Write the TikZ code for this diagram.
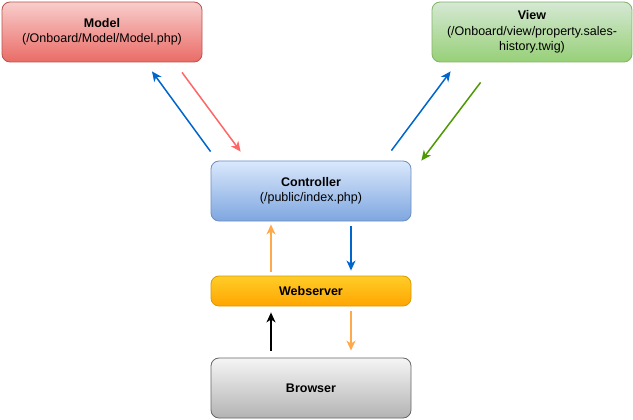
\documentclass[tikz,border=0pt]{standalone}
\usepackage{fontspec}
\setmainfont{Liberation Sans}
\usetikzlibrary{arrows.meta, positioning}
\definecolor{modeltop}{HTML}{F8CECC}
\definecolor{modelbot}{HTML}{EA6B66}
\definecolor{modelline}{HTML}{B85450}
\definecolor{viewtop}{HTML}{D5E8D4}
\definecolor{viewbot}{HTML}{97D077}
\definecolor{viewline}{HTML}{82B366}
\definecolor{ctrltop}{HTML}{DAE8FC}
\definecolor{ctrlbot}{HTML}{7EA6E0}
\definecolor{ctrlline}{HTML}{6C8EBF}
\definecolor{webtop}{HTML}{FFCD28}
\definecolor{webbot}{HTML}{FFA500}
\definecolor{webline}{HTML}{D79B00}
\definecolor{browtop}{HTML}{F5F5F5}
\definecolor{browbot}{HTML}{B3B3B3}
\definecolor{browline}{HTML}{666666}
\definecolor{callblue}{HTML}{0066CC}
\definecolor{callred}{HTML}{FF6666}
\definecolor{callgreen}{HTML}{4D9900}
\definecolor{callorange}{HTML}{FFA94D}
\tikzset{%
  box/.style={draw, rounded corners=8pt, minimum width=200pt, minimum height=60pt,
    inner sep=0pt, align=center, line width=0.8pt,
    font=\fontsize{12.5}{15.5}\selectfont},
  flat box/.style={box, minimum height=30pt},
  model box/.style={box, top color=modeltop, bottom color=modelbot, draw=modelline},
  view box/.style={box, top color=viewtop, bottom color=viewbot, draw=viewline},
  ctrl box/.style={box, top color=ctrltop, bottom color=ctrlbot, draw=ctrlline},
  web box/.style={flat box, top color=webtop, bottom color=webbot, draw=webline},
  browser box/.style={box, top color=browtop, bottom color=browbot, draw=browline},
  call/.style={line width=1.5pt, -{Stealth[length=10pt, width=9pt, inset=3pt]}}
}
\begin{document}
\begin{tikzpicture}[x=1pt, y=-1pt]
  \useasboundingbox (0,0) rectangle (633,420);

  \node[model box] (model) at (102,32) {\textbf{Model}\\(/Onboard/Model/Model.php)};
  \node[view box] (view) at (532,32) {\textbf{View}\\(/Onboard/view/property.sales-\\history.twig)};
  \node[ctrl box] (ctrl) at (311,191) {\textbf{Controller}\\(/public/index.php)};
  \node[web box] (web) at (311,291) {\textbf{Webserver}};
  \node[browser box] (browser) at (311,388) {\textbf{Browser}};

  % controller <-> model
  \draw[call, callblue] ([yshift=9pt]ctrl.north west) to ([xshift=50pt,yshift=-9pt]model.south);
  \draw[call, callred] ([xshift=80pt,yshift=-10pt]model.south) to ([xshift=30pt,yshift=9pt]ctrl.north west);

  % controller <-> view
  \draw[call, callblue] ([xshift=-20pt,yshift=10pt]ctrl.north east) to ([xshift=19pt,yshift=-9pt]view.south west);
  \draw[call, callgreen] ([xshift=49pt,yshift=-20pt]view.south west) to ([xshift=10pt]ctrl.north east);

  % webserver <-> controller
  \draw[call, callorange] ([xshift=-40pt,yshift=4pt]web.north) to ([xshift=-40pt,yshift=-3pt]ctrl.south);
  \draw[call, callblue] ([xshift=40pt,yshift=-5pt]ctrl.south) to ([xshift=40pt,yshift=5pt]web.north);

  % browser <-> webserver
  \draw[call, black] ([xshift=-40pt,yshift=7pt]browser.north) to ([xshift=-40pt,yshift=-6pt]web.south);
  \draw[call, callorange] ([xshift=40pt,yshift=-5pt]web.south) to ([xshift=40pt,yshift=7pt]browser.north);
\end{tikzpicture}
\end{document}
